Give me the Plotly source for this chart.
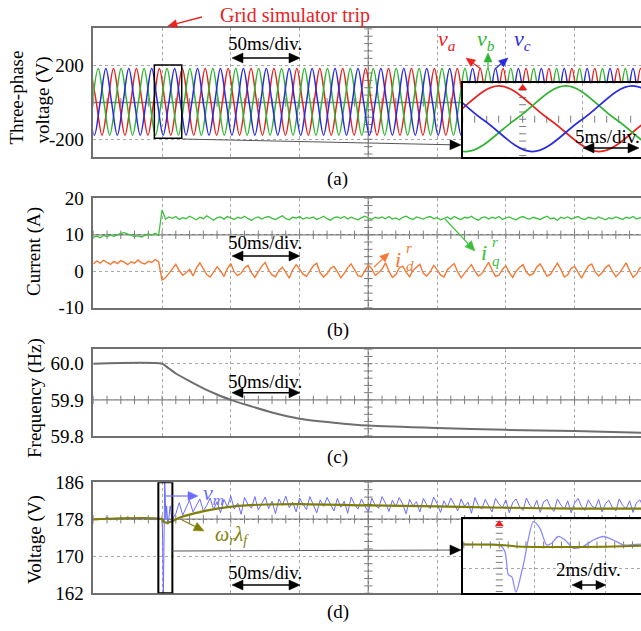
import numpy as np
import plotly.graph_objects as go

W, H = 641, 631

# ---------------- data ----------------
# time base: 50 ms per division, grid simulator trips at 50 ms
T_RANGE = [0.0, 398.3]
GRID_MS = [50, 100, 150, 200, 250, 300, 350]
TRIP_MS = 50.0

# (a) grid phase voltages [V], sampled every quarter period of the 60 Hz wave
QUARTER_MS = 4.1667
VA_T0, VB_T0, VC_T0 = -1.97, -0.58, -3.36
VA = [
    184, 0, -178, 0, 184, 0, -178, 0, 184, 0, -178, 0,
    184, 0, -178, 0, 184, 0, -178, 0, 184, 0, -178, 0,
    184, 0, -178, 0, 184, 0, -178, 0, 184, 0, -178, 0,
    184, 0, -178, 0, 184, 0, -178, 0, 184, 0, -178, 0,
    184, 0, -178, 0, 184, 0, -178, 0, 184, 0, -178, 0,
    184, 0, -178, 0, 184, 0, -178, 0, 184, 0, -178, 0,
    184, 0, -178, 0, 184, 0, -178, 0, 184, 0, -178, 0,
    184, 0, -178, 0, 184, 0, -178, 0, 184, 0, -178, 0,
    184, 0,
]
VB = [
    0, 184, 0, -178, 0, 184, 0, -178, 0, 184, 0, -178,
    0, 184, 0, -178, 0, 184, 0, -178, 0, 184, 0, -178,
    0, 184, 0, -178, 0, 184, 0, -178, 0, 184, 0, -178,
    0, 184, 0, -178, 0, 184, 0, -178, 0, 184, 0, -178,
    0, 184, 0, -178, 0, 184, 0, -178, 0, 184, 0, -178,
    0, 184, 0, -178, 0, 184, 0, -178, 0, 184, 0, -178,
    0, 184, 0, -178, 0, 184, 0, -178, 0, 184, 0, -178,
    0, 184, 0, -178, 0, 184, 0, -178, 0, 184, 0, -178,
    0, 184,
]
VC = [
    0, -178, 0, 184, 0, -178, 0, 184, 0, -178, 0, 184,
    0, -178, 0, 184, 0, -178, 0, 184, 0, -178, 0, 184,
    0, -178, 0, 184, 0, -178, 0, 184, 0, -178, 0, 184,
    0, -178, 0, 184, 0, -178, 0, 184, 0, -178, 0, 184,
    0, -178, 0, 184, 0, -178, 0, 184, 0, -178, 0, 184,
    0, -178, 0, 184, 0, -178, 0, 184, 0, -178, 0, 184,
    0, -178, 0, 184, 0, -178, 0, 184, 0, -178, 0, 184,
    0, -178, 0, 184, 0, -178, 0, 184, 0, -178, 0, 184,
    0, -178,
]

# (b) rotor-frame currents [A], one sample every 2.5 ms from 0 ms
SAMPLE_MS = 2.5
IQ = [
    9.3, 9.6, 9.2, 9.8, 9.5, 9.9, 9.6, 10.1, 10.4, 10.6,
    10.2, 9.9, 9.5, 9.7, 9.4, 9.8, 10.2, 9.9, 10.4, 9.8,
    16.8,
    14.3, 14.9, 14.5, 15.0, 14.2, 14.7, 14.4, 15.1, 14.6, 14.1,
    14.8, 14.4, 15.2, 14.5, 14.0, 14.7, 14.9, 14.3, 15.0, 14.6,
    14.2, 14.8, 14.5, 15.1, 14.4, 14.0, 14.6, 14.9, 14.3, 14.8,
    15.0, 14.5, 14.2, 14.7, 15.2, 14.4, 14.1, 14.8, 14.6, 15.0,
    14.3, 14.7, 14.5, 14.9, 14.2, 14.6, 15.1, 14.4, 14.0, 14.7,
    14.9, 14.5, 15.0, 14.3, 14.8, 14.4, 14.1, 14.7, 15.1, 14.6,
    14.2, 14.8, 14.5, 14.9, 14.4, 15.0, 14.3, 14.6, 14.1, 14.8,
    15.1, 14.5, 14.2, 14.9, 14.6, 14.3, 14.8, 15.0, 14.4, 14.7,
    14.1, 14.6, 14.9, 14.3, 15.0, 14.5, 14.2, 14.8, 14.6, 15.1,
    14.4, 14.0, 14.7, 14.9, 14.3, 14.8, 14.5, 15.0, 14.2, 14.6,
    14.9, 14.4, 14.1, 14.7, 15.0, 14.5, 14.3, 14.8, 14.6, 14.2,
    14.7, 15.1, 14.4, 14.6, 14.0, 14.8, 14.5, 14.9, 14.3, 14.7,
    15.0, 14.4, 14.2, 14.8, 14.6, 14.3, 14.9, 14.5, 14.1, 14.7,
    14.4, 14.9, 14.6, 14.2, 14.8, 14.5, 15.0, 14.3, 14.7, 14.5,
]
ID = [
    2.0, 2.8, 2.2, 3.0, 2.4, 1.9, 2.7, 2.1, 2.9, 2.5,
    1.8, 2.6, 2.2, 3.1, 2.3, 2.0, 2.7, 2.4, 3.2, 2.6,
    -2.4,
    -1.8, -0.6, 0.8, 1.9, 0.2, -1.1, -0.4, 0.5, -1.3, 0.9,
    2.3, 0.6, -0.9, -1.6, -0.3, 1.2, 0.1, -1.4, 0.7, 2.1,
    -0.2, -1.2, -0.5, 0.9, 1.6, -0.4, -1.7, -0.2, 1.4, 2.4,
    0.3, -1.0, -1.5, 0.2, 1.1, -0.3, -1.9, 0.4, 1.8, 0.6,
    -0.8, -1.4, 0.1, 1.5, 2.2, -0.5, -1.6, -0.7, 0.8, 1.3,
    -0.1, -1.8, -0.6, 1.0, 2.0, 0.4, -1.2, -1.5, 0.3, 1.7,
    0.7, -1.1, -0.4, 0.6, 2.3, 0.0, -1.7, -0.9, 0.9, 1.4,
    -0.3, -1.5, 0.2, 1.2, 1.9, -0.6, -1.3, -0.2, 1.6, 0.5,
    -1.0, -1.6, 0.4, 1.3, 2.1, -0.2, -1.8, -0.5, 0.7, 1.8,
    0.1, -1.3, -0.7, 0.9, 2.4, 0.3, -1.4, -1.1, 0.5, 1.5,
    -0.4, -1.7, 0.0, 1.1, 1.8, -0.3, -1.2, -0.6, 1.2, 2.0,
    0.2, -1.4, -0.8, 0.6, 2.2, 0.5, -1.6, -1.0, 0.8, 1.3,
    -0.5, -1.9, -0.1, 1.4, 2.0, -0.2, -1.3, -0.4, 1.0, 1.7,
    0.0, -1.5, -0.6, 0.7, 2.3, 0.2, -1.7, -0.8, 0.9, 1.1,
]

# (c) estimated grid frequency [Hz]
F_T = [0, 50, 55, 60, 70, 80, 90, 100, 115, 130, 150, 175, 200, 250, 300, 350, 398.3]
F_HZ = [60.0, 60.0, 59.987, 59.973, 59.952, 59.932, 59.915, 59.9, 59.882, 59.865,
        59.848, 59.837, 59.829, 59.822, 59.817, 59.814, 59.809]

# (d) measured voltage v_m [V]: before trip (0..47.5 ms), around the trip, after (60..400 ms)
VM_PRE = [178.0, 177.9, 178.2, 178.0, 178.5, 177.9, 178.1, 177.8, 178.3, 178.0,
          178.6, 178.0, 177.9, 178.2, 177.9, 178.4, 178.0, 178.1, 177.9, 178.3]
VM_TRIP_T = [48.0, 50.0, 50.32, 50.51, 50.7, 50.94, 51.35, 51.92, 52.29, 52.67,
             52.95, 53.32, 53.7, 54.17, 54.73, 55.3, 55.86, 56.42, 56.99, 57.5]
VM_TRIP = [178.0, 178.0, 175.7, 167.7, 167.1, 161.8, 171.1, 186.0, 183.7, 178.0,
           178.6, 180.9, 179.7, 176.9, 177.5, 179.7, 180.9, 179.7, 178.0, 178.1]
VM_POST_T0 = 60.0
VM_POST = [
    179.2, 181.6, 178.9, 180.4, 182.1, 179.6, 180.9, 182.4, 179.8,
    181.0, 182.6, 180.1, 181.8, 179.4, 182.3, 180.7, 183.0,
    180.2, 181.5, 179.1, 182.7, 181.2, 180.4, 182.9, 180.0,
    181.5, 182.8, 180.3, 181.9, 179.2, 182.4, 181.0, 183.0,
    180.5, 181.7, 179.6, 182.6, 181.3, 180.1, 182.9, 181.1,
    179.4, 182.2, 180.8, 182.7, 181.4, 179.8, 182.5, 180.6,
    181.9, 179.3, 182.8, 181.2, 180.2, 182.4, 180.9, 179.5,
    182.6, 181.0, 180.4, 182.9, 181.5, 179.7, 182.1, 180.7,
    182.7, 181.3, 179.2, 182.3, 180.9, 181.8, 179.6, 182.5,
    181.1, 180.3, 182.8, 181.4, 179.5, 182.0, 180.6, 182.6,
    181.2, 179.8, 182.4, 180.8, 181.7, 179.3, 182.7, 181.0,
    180.2, 182.3, 180.9, 179.6, 182.5, 181.3, 180.5, 182.2,
    179.4, 181.6, 182.4, 180.7, 179.9, 182.6, 181.0, 180.3,
    182.1, 179.5, 181.8, 182.3, 180.6, 179.7, 182.4, 181.1,
    180.2, 182.0, 179.4, 181.5, 182.5, 180.8, 179.9, 182.2,
    180.9, 180.4, 182.3, 179.6, 181.4, 182.1, 180.5, 179.8,
    182.4, 181.0, 180.3, 182.0, 179.5, 181.6, 182.2, 180.7,
]
# flux-based estimate omega_r * lambda_f [V]
WL_T = [0, 50, 51, 53, 56, 58, 64, 70, 78, 90, 102, 126, 150, 200, 250, 300, 350, 398.3]
WL = [178.0, 178.0, 177.5, 177.3, 177.4, 177.7, 178.5, 179.0, 179.6, 180.3, 180.8,
      181.2, 181.3, 181.0, 180.8, 180.5, 180.3, 180.3]

# ---------------- derived sample times ----------------
ta = VA_T0 + np.arange(len(VA)) * QUARTER_MS
tb = VB_T0 + np.arange(len(VB)) * QUARTER_MS
tc = VC_T0 + np.arange(len(VC)) * QUARTER_MS
t_i = np.arange(len(IQ)) * SAMPLE_MS
t_vm = np.concatenate([np.arange(len(VM_PRE)) * SAMPLE_MS, VM_TRIP_T,
                       VM_POST_T0 + np.arange(len(VM_POST)) * SAMPLE_MS])
vm = VM_PRE + VM_TRIP + VM_POST

# ---------------- style ----------------
FONT = "Liberation Serif"
RED, GREEN, BLUE = "#e6231f", "#2fb52f", "#2a2ae0"
ORANGE, IQ_GREEN = "#f37a35", "#3cbf3c"
VM_BLUE, OLIVE = "#6c6cff", "#7f7f05"
GRID = "#a8a8a8"
FRAME = "#707070"
AXC = "#7c7c7c"


def py(y):
    return 1 - y / H


X_DOM = [93.3 / W, 1.0]
PANELS = [
    # xaxis id, yaxis id, (top, bottom) px, y range, tick values, labels, centre, division
    ("x", "y", (28.3, 157.3), [-298, 403], [200, -200], ["200", "-200"], 0.0, 200.0),
    ("x2", "y2", (198.3, 307.7), [-10, 20], [20, 10, 0, -10], ["20", "10", "0", "-10"], 10.0, 10.0),
    ("x3", "y3", (349.3, 436.0), [59.8, 60.04], [60.0, 59.9, 59.8], ["60.0", "59.9", "59.8"], 59.9, 0.1),
    ("x4", "y4", (482.3, 593.3), [162, 186], [186, 178, 170, 162], ["186", "178", "170", "162"], 178.0, 8.0),
]

fig = go.Figure()
layout = dict(width=W, height=H, margin=dict(l=0, r=0, t=0, b=0, autoexpand=False),
              paper_bgcolor="white", plot_bgcolor="white", showlegend=False)


def axname(a):
    return ("xaxis" if a[0] == "x" else "yaxis") + a[1:]


def centre_cross(xa, ya, xc, yc, xstep, ystep, xr, yr, color=AXC, width=1.4, tick=6):
    fig.add_shape(type="line", xref=xa, yref=ya + " domain", x0=xc, x1=xc, y0=0, y1=1,
                  line=dict(color=color, width=width), layer="below")
    fig.add_shape(type="line", xref=xa + " domain", yref=ya, x0=0, x1=1, y0=yc, y1=yc,
                  line=dict(color=color, width=width), layer="below")
    xs = np.arange(np.ceil(xr[0] / xstep) * xstep, xr[1], xstep)
    ks = np.arange(np.ceil((yr[0] - yc) / ystep), np.floor((yr[1] - yc) / ystep) + 1)
    ys = yc + ks * ystep
    fig.add_trace(go.Scatter(x=xs, y=[yc] * len(xs), mode="markers", xaxis=xa, yaxis=ya,
                             marker=dict(symbol="line-ns", size=tick, line=dict(color=color, width=1)),
                             hoverinfo="skip"))
    fig.add_trace(go.Scatter(x=[xc] * len(ys), y=ys, mode="markers", xaxis=xa, yaxis=ya,
                             marker=dict(symbol="line-ew", size=tick, line=dict(color=color, width=1)),
                             hoverinfo="skip"))


for xa, ya, (top, bot), yr, tv, tt, yc, div in PANELS:
    layout[axname(xa)] = dict(domain=X_DOM, range=T_RANGE, anchor=ya, tickvals=GRID_MS,
                              showticklabels=False, ticks="", showgrid=True, gridcolor=GRID,
                              griddash="dot", gridwidth=1, zeroline=False, showline=True,
                              mirror=True, linecolor=FRAME, linewidth=1.5, fixedrange=True,
                              automargin=False)
    layout[axname(ya)] = dict(domain=[py(bot), py(top)], range=yr, anchor=xa, tickvals=tv,
                              ticktext=tt, ticks="", ticklabelstandoff=4, showgrid=True,
                              gridcolor=GRID, griddash="dot", gridwidth=1, zeroline=False,
                              showline=True, mirror=False, linecolor=FRAME, linewidth=1.5,
                              tickfont=dict(family=FONT, size=19, color="black"), fixedrange=True,
                              automargin=False)
    centre_cross(xa, ya, 200.0, yc, 10.0, div / 5.0, T_RANGE, yr)

# inset axes: (a) 5 ms/div window, (d) 2 ms/div window
INSET_A_T = [45.0, 59.86]
INSET_A_V = [-205, 198]
INSET_D_T = [47.94, 57.98]
INSET_D_V = [161.4, 186.8]
inset_x = [462.7 / W, 1.0]
layout["xaxis5"] = dict(domain=inset_x, range=INSET_A_T, anchor="y5", tickvals=[55],
                        showticklabels=False, ticks="", showgrid=True, gridcolor=GRID,
                        griddash="dot", zeroline=False, showline=True, mirror=True,
                        linecolor="black", linewidth=2.2, fixedrange=True, automargin=False)
layout["yaxis5"] = dict(domain=[py(156.5), py(83.3)], range=INSET_A_V, anchor="x5",
                        showticklabels=False, ticks="", showgrid=False, zeroline=False,
                        showline=True, linecolor="black", linewidth=2.2, fixedrange=True,
                        automargin=False)
layout["xaxis6"] = dict(domain=inset_x, range=INSET_D_T, anchor="y6", tickvals=[52, 54, 56],
                        showticklabels=False, ticks="", showgrid=True, gridcolor=GRID,
                        griddash="dot", zeroline=False, showline=True, mirror=True,
                        linecolor="black", linewidth=2.2, fixedrange=True, automargin=False)
layout["yaxis6"] = dict(domain=[py(593.3), py(519.3)], range=INSET_D_V, anchor="x6",
                        tickvals=[170], showticklabels=False, ticks="", showgrid=True,
                        gridcolor=GRID, griddash="dot", zeroline=False, showline=True,
                        linecolor="black", linewidth=2.2, fixedrange=True, automargin=False)
fig.update_layout(**layout)

centre_cross("x5", "y5", TRIP_MS, 0.0, 1.0, 40.0, INSET_A_T, INSET_A_V, width=1.2, tick=5)
centre_cross("x6", "y6", TRIP_MS, 178.0, 0.5, 2.0, INSET_D_T, INSET_D_V, width=1.0, tick=5)

# ---------------- traces ----------------
for t, v, c in ((ta, VA, RED), (tb, VB, GREEN), (tc, VC, BLUE)):
    fig.add_trace(go.Scatter(x=t, y=v, mode="lines", xaxis="x", yaxis="y",
                             line=dict(color=c, width=1.5, shape="spline", smoothing=1.0),
                             hoverinfo="skip"))

fig.add_trace(go.Scatter(x=t_i, y=IQ, mode="lines", xaxis="x2", yaxis="y2",
                         line=dict(color=IQ_GREEN, width=1.3), hoverinfo="skip"))
fig.add_trace(go.Scatter(x=t_i, y=ID, mode="lines", xaxis="x2", yaxis="y2",
                         line=dict(color=ORANGE, width=1.4), hoverinfo="skip"))

fig.add_trace(go.Scatter(x=F_T, y=F_HZ, mode="lines", xaxis="x3", yaxis="y3",
                         line=dict(color="#6e6e6e", width=2, shape="spline", smoothing=0.6),
                         hoverinfo="skip"))

fig.add_trace(go.Scatter(x=t_vm, y=vm, mode="lines", xaxis="x4", yaxis="y4",
                         line=dict(color=VM_BLUE, width=1.0), hoverinfo="skip"))
fig.add_trace(go.Scatter(x=WL_T, y=WL, mode="lines", xaxis="x4", yaxis="y4",
                         line=dict(color=OLIVE, width=2.2, shape="spline", smoothing=0.8),
                         hoverinfo="skip"))

# inset traces
for t, v, c in ((ta, VA, RED), (tb, VB, GREEN), (tc, VC, BLUE)):
    fig.add_trace(go.Scatter(x=t, y=v, mode="lines", xaxis="x5", yaxis="y5",
                             line=dict(color=c, width=1.7, shape="spline", smoothing=1.0),
                             hoverinfo="skip"))
fig.add_trace(go.Scatter(x=t_vm, y=vm, mode="lines", xaxis="x6", yaxis="y6",
                         line=dict(color="#8a8aff", width=1.3, shape="spline", smoothing=0.7),
                         hoverinfo="skip"))
fig.add_trace(go.Scatter(x=WL_T, y=WL, mode="lines", xaxis="x6", yaxis="y6",
                         line=dict(color=OLIVE, width=2.0, shape="spline", smoothing=0.8),
                         hoverinfo="skip"))

# trip markers above each panel and inside the insets
TRIP_MARK_Y = {"y": 427, "y2": 21.3, "y3": 60.06, "y4": 187.3}
for (xa, ya, *_rest) in PANELS:
    fig.add_trace(go.Scatter(x=[TRIP_MS], y=[TRIP_MARK_Y[ya]], mode="markers", xaxis=xa, yaxis=ya,
                             marker=dict(symbol="triangle-down", size=8, color="#ee1c1c"),
                             cliponaxis=False, hoverinfo="skip"))
fig.add_trace(go.Scatter(x=[TRIP_MS], y=[172], mode="markers", xaxis="x5", yaxis="y5",
                         marker=dict(symbol="triangle-up", size=8, color="#ee1c1c"),
                         cliponaxis=False, hoverinfo="skip"))
fig.add_trace(go.Scatter(x=[TRIP_MS], y=[185.1], mode="markers", xaxis="x6", yaxis="y6",
                         marker=dict(symbol="triangle-up", size=8, color="#ee1c1c"),
                         cliponaxis=False, hoverinfo="skip"))

# zoom windows
fig.add_shape(type="rect", xref="x", yref="y", x0=44.4, x1=64.3, y0=-194.6, y1=204,
              line=dict(color="black", width=1.5), layer="above")
fig.add_shape(type="rect", xref="x4", yref="y4", x0=47.3, x1=57.5, y0=162, y1=186,
              line=dict(color="black", width=2), layer="above")


# ---------------- text and arrows ----------------
def label(x, y, text, size=19, color="black", angle=0, xanchor="center", yanchor="middle"):
    fig.add_annotation(x=x / W, y=py(y), xref="paper", yref="paper", text=text, showarrow=False,
                       font=dict(family=FONT, size=size, color=color), textangle=angle,
                       xanchor=xanchor, yanchor=yanchor)


def _head(tx, ty, ux, uy, length, half):
    """Filled triangular arrow head with its tip at (tx, ty), pointing along (ux, uy)."""
    bx, by = tx - length * ux, ty - length * uy
    nx, ny = -uy * half, ux * half
    pts = [(tx, ty), (bx + nx, by + ny), (bx - nx, by - ny)]
    path = "M " + " L ".join("%.5f,%.5f" % (x / W, py(y)) for x, y in pts) + " Z"
    return path, (bx, by)


def arrow(x0, y0, x1, y1, color="black", width=1.5, head=9.0, both=False, line_color=None):
    dx, dy = x1 - x0, y1 - y0
    n = (dx * dx + dy * dy) ** 0.5
    ux, uy = dx / n, dy / n
    half = head * 0.45
    p_end, (ex, ey) = _head(x1, y1, ux, uy, head, half)
    sx, sy = x0, y0
    paths = [p_end]
    if both:
        p_start, (sx, sy) = _head(x0, y0, -ux, -uy, head, half)
        paths.append(p_start)
    fig.add_shape(type="line", xref="paper", yref="paper", x0=sx / W, y0=py(sy),
                  x1=ex / W, y1=py(ey), line=dict(color=line_color or color, width=width),
                  layer="above")
    for p in paths:
        fig.add_shape(type="path", xref="paper", yref="paper", path=p, fillcolor=color,
                      line=dict(color=color, width=0.5), layer="above")


# axis titles
label(15.5, 98, "Three-phase", size=19, angle=-90)
label(42.5, 100, "voltage (V)", size=19, angle=-90)
label(34, 252, "Current (A)", size=19, angle=-90)
label(35, 398, "Frequency (Hz)", size=19, angle=-90)
label(35, 540, "Voltage (V)", size=19, angle=-90)

# captions
for cap, yy in (("(a)", 179), ("(b)", 330), ("(c)", 457), ("(d)", 612)):
    label(338, yy, cap, size=19)

# trip note
label(295, 16, "Grid simulator trip", size=20, color=RED)
arrow(202, 17, 168, 26, color=RED, width=1.3, head=9)

# time-scale notes
for yt, ya_ in ((43, 58), (243, 256), (381.7, 392.7), (572, 585)):
    label(265, yt, "50ms/div.", size=19)
    arrow(232, ya_, 300, ya_, both=True, width=1.5, head=11)
label(607, 136, "5ms/div.", size=19)
arrow(583, 148, 639, 148, both=True, width=1.5, head=11)
label(588, 569, "2ms/div.", size=19)
arrow(572, 585, 606, 585, both=True, width=1.5, head=10)

# zoom window leaders
arrow(181.7, 139, 461, 145, color="black", line_color="#555555", width=1.0, head=11)
arrow(172.3, 551, 461, 550, color="black", line_color="#555555", width=1.0, head=11)

# phase labels
label(447, 40, "<i>v<sub>a</sub></i>", size=22, color=RED)
label(486, 40, "<i>v<sub>b</sub></i>", size=22, color=GREEN)
label(522, 40, "<i>v<sub>c</sub></i>", size=22, color=BLUE)
arrow(481, 69, 466, 58, color=RED, width=1.2, head=9)
arrow(488, 69, 488, 53, color=GREEN, width=1.2, head=9)
arrow(495, 69, 508, 58, color=BLUE, width=1.2, head=9)

# current labels
label(398, 259, "<i>i</i>", size=22, color=ORANGE)
label(409, 248, "<i>r</i>", size=15, color=ORANGE)
label(410, 266, "<i>d</i>", size=15, color=ORANGE)
arrow(374, 267, 389, 253, color=ORANGE, width=1.2, head=9)
label(484, 253, "<i>i</i>", size=22, color=IQ_GREEN)
label(495, 242, "<i>r</i>", size=15, color=IQ_GREEN)
label(496, 261, "<i>q</i>", size=15, color=IQ_GREEN)
arrow(445, 219, 475, 251, color=IQ_GREEN, width=1.2, head=10)

# voltage labels
label(213, 494, "<i>v<sub>m</sub></i>", size=22, color=VM_BLUE)
arrow(166, 496, 198, 496, color=VM_BLUE, width=1.2, head=10)
label(232, 535, "<i>ω<sub>r</sub>λ<sub>f</sub></i>", size=20, color=OLIVE)
arrow(182, 520, 204, 531, color=OLIVE, width=1.2, head=10)

fig.write_html("out.html", config={"displayModeBar": False})
